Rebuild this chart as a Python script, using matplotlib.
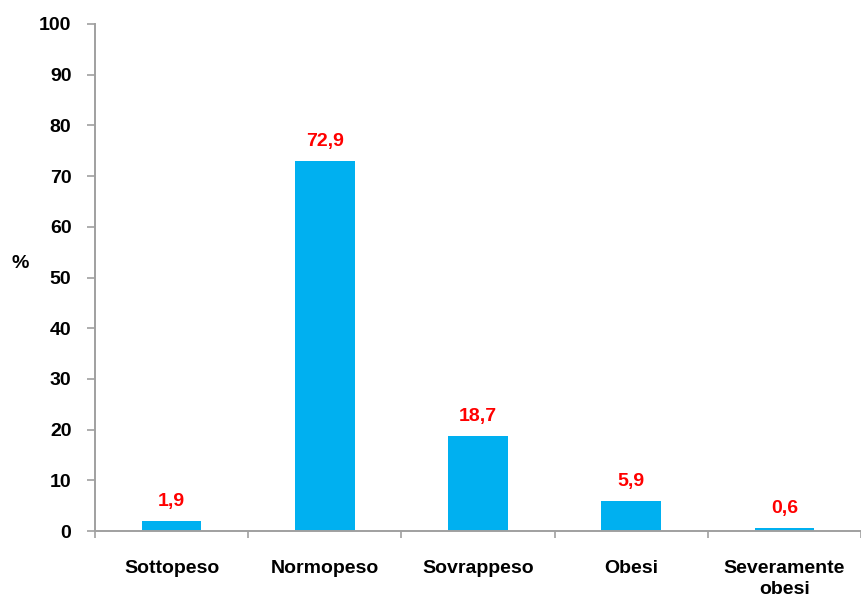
import matplotlib.pyplot as plt
import numpy as np

categories = ["Sottopeso", "Normopeso", "Sovrappeso", "Obesi", "Severamente\nobesi"]
values = [1.9, 72.9, 18.7, 5.9, 0.6]
labels = ["1,9", "72,9", "18,7", "5,9", "0,6"]

plt.rcParams['font.family'] = ['Liberation Sans', 'DejaVu Sans']
plt.rcParams['font.weight'] = 'bold'

fs = 14

fig = plt.figure(figsize=(8.61, 6.01), dpi=100)
ax = fig.add_axes([95/861, 1 - 531/601, 1 - 95/861, (531 - 24)/601])

x = np.arange(len(categories))
bars = ax.bar(x, values, width=0.39, color='#00B0F0', zorder=2)

for xi, v, lab in zip(x, values, labels):
    ax.annotate(lab, (xi, v), xytext=(0, 8), textcoords='offset points',
                ha='center', va='bottom', color='#FF0000',
                fontsize=fs, fontweight='bold')

ax.set_ylim(0, 100)
ax.set_yticks(range(0, 101, 10))
ax.set_xlim(-0.5, 4.44)
ax.set_xticks(x)
ax.set_xticklabels(categories, fontsize=fs, fontweight='bold', linespacing=1.3)
ax.set_xticks(np.arange(-0.5, 5, 1), minor=True)

for lbl in ax.get_yticklabels():
    lbl.set_fontsize(fs)
    lbl.set_fontweight('bold')

ax.tick_params(axis='x', which='major', length=0, pad=21)
ax.tick_params(axis='x', which='minor', length=5, width=1.2, color='#A0A0A0', direction='out')
ax.tick_params(axis='y', length=6, width=1.2, color='#A0A0A0', direction='out', pad=11)

for side in ['top', 'right']:
    ax.spines[side].set_visible(False)
for side in ['left', 'bottom']:
    ax.spines[side].set_color('#A0A0A0')
    ax.spines[side].set_linewidth(1.4)

fig.text(20/861, 1 - 263/601, "%", ha='center', va='center', fontsize=fs, fontweight='bold')

fig.savefig("out.png", dpi=100)
